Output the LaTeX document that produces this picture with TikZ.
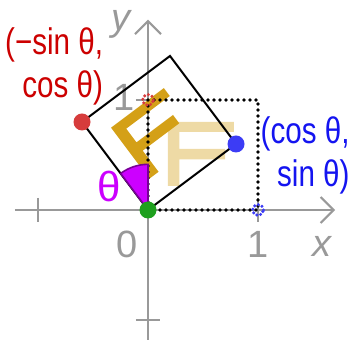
\documentclass[tikz,border=0pt]{standalone}
\usepackage{fontspec}
\setmainfont{Liberation Sans}
\newfontfamily\labfont[FakeStretch=0.8]{Liberation Sans}
\usetikzlibrary{arrows.meta}
\definecolor{axisgray}{RGB}{153,153,153}
\definecolor{redtxt}{RGB}{204,0,0}
\definecolor{reddot}{RGB}{214,60,60}
\definecolor{bluetxt}{RGB}{20,20,240}
\definecolor{bluedot}{RGB}{60,60,245}
\definecolor{greendot}{RGB}{30,160,30}
\definecolor{wedgefill}{RGB}{204,0,255}
\definecolor{wedgeline}{RGB}{120,0,150}
\definecolor{fgold}{RGB}{212,160,23}
\definecolor{fpale}{RGB}{238,218,165}
\tikzset{
  axisline/.style={draw=axisgray,line width=1pt},
  axislabel/.style={text=axisgray,font=\fontsize{19}{21}\selectfont,inner sep=0pt},
  dotline/.style={draw=black,line width=1.8pt,line cap=round,dash pattern=on 0pt off 3pt},
  ghost/.style={line width=1.7pt,line cap=round,dash pattern=on 0pt off 2pt},
  ptdot/.style={circle,inner sep=0pt,minimum size=8.5pt},
  coordlabel/.style={font=\labfont\fontsize{18.5}{21.5}\selectfont,align=right,inner sep=0pt},
  fshape/.pic={\fill[#1] (0.18,0.22) -- (0.18,0.8) -- (0.78,0.8) -- (0.78,0.71) -- (0.285,0.71) -- (0.285,0.555) -- (0.70,0.555) -- (0.70,0.46) -- (0.285,0.46) -- (0.285,0.22) -- cycle;},
}
\begin{document}
\begin{tikzpicture}[x=55pt,y=55pt]
\useasboundingbox (-1.3455,-1.1818) rectangle (1.8636,1.9091);
% axes
\coordinate (xs) at (-1.21,0);
\coordinate (xe) at (1.70,0);
\coordinate (ys) at (0,-1.20);
\coordinate (ye) at (0,1.73);
\draw[axisline,-{Straight Barb[length=6.5pt,width=13pt]}] (xs) -- (xe);
\draw[axisline,-{Straight Barb[length=6.5pt,width=13pt]}] (ys) -- (ye);
\coordinate (tx1) at (-1,0.11); \coordinate (tx2) at (-1,-0.11);
\draw[axisline] (tx1) -- (tx2);
\coordinate (ty1) at (-0.11,-1); \coordinate (ty2) at (0.11,-1);
\draw[axisline] (ty1) -- (ty2);
\coordinate (tr1) at (1,0.11); \coordinate (tr2) at (1,-0.11);
\draw[axisline] (tr1) -- (tr2);
\coordinate (tu1) at (-0.11,1); \coordinate (tu2) at (0.11,1);
\draw[axisline] (tu1) -- (tu2);
\node[axislabel] (l0) at (-0.19,-0.31) {0};
\node[axislabel] (l1) at (1.0,-0.31) {1};
\node[axislabel] (lx) at (1.58,-0.33) {\itshape x};
\node[axislabel] (ly) at (-0.25,1.69) {\itshape y};
\node[axislabel] (l1y) at (-0.22,1.02) {1};
% pale F and rotated F
\pic {fshape=fpale};
\pic[rotate=36.87] {fshape=fgold};
% dotted unit square
\coordinate (O) at (0,0);
\coordinate (E1) at (1,0);
\coordinate (E2) at (0,1);
\coordinate (E3) at (1,1);
\draw[dotline] (O) -- (E1) -- (E3) -- (E2) -- cycle;
% rotated square
\coordinate (A) at (0.8,0.6);
\coordinate (B) at (0.2,1.4);
\coordinate (C) at (-0.6,0.8);
\draw[black,line width=1pt,line join=miter] (O) -- (A) -- (B) -- (C) -- cycle;
% angle wedge
\filldraw[fill=wedgefill,draw=wedgeline,line width=0.8pt] (O) -- (90:0.415) arc[start angle=90,end angle=126.87,radius=0.415] -- cycle;
\node[text=wedgefill,font=\fontsize{21}{23}\selectfont,inner sep=0pt] (th) at (-0.355,0.21) {θ};
% ghost points
\draw[ghost,draw=bluedot] (E1) circle[radius=0.05];
\draw[ghost,draw=reddot] (E2) circle[radius=0.05];
% points
\node[ptdot,fill=greendot] (pO) at (O) {};
\node[ptdot,fill=bluedot] (pA) at (A) {};
\node[ptdot,fill=reddot] (pC) at (C) {};
% labels
\node[coordlabel,text=redtxt,anchor=east] (lc) at (-0.405,1.305) {(−sin θ,\\cos θ)};
\node[coordlabel,text=bluetxt,anchor=east] (la) at (1.836,0.495) {(cos θ,\\sin θ)};
\end{tikzpicture}
\end{document}
